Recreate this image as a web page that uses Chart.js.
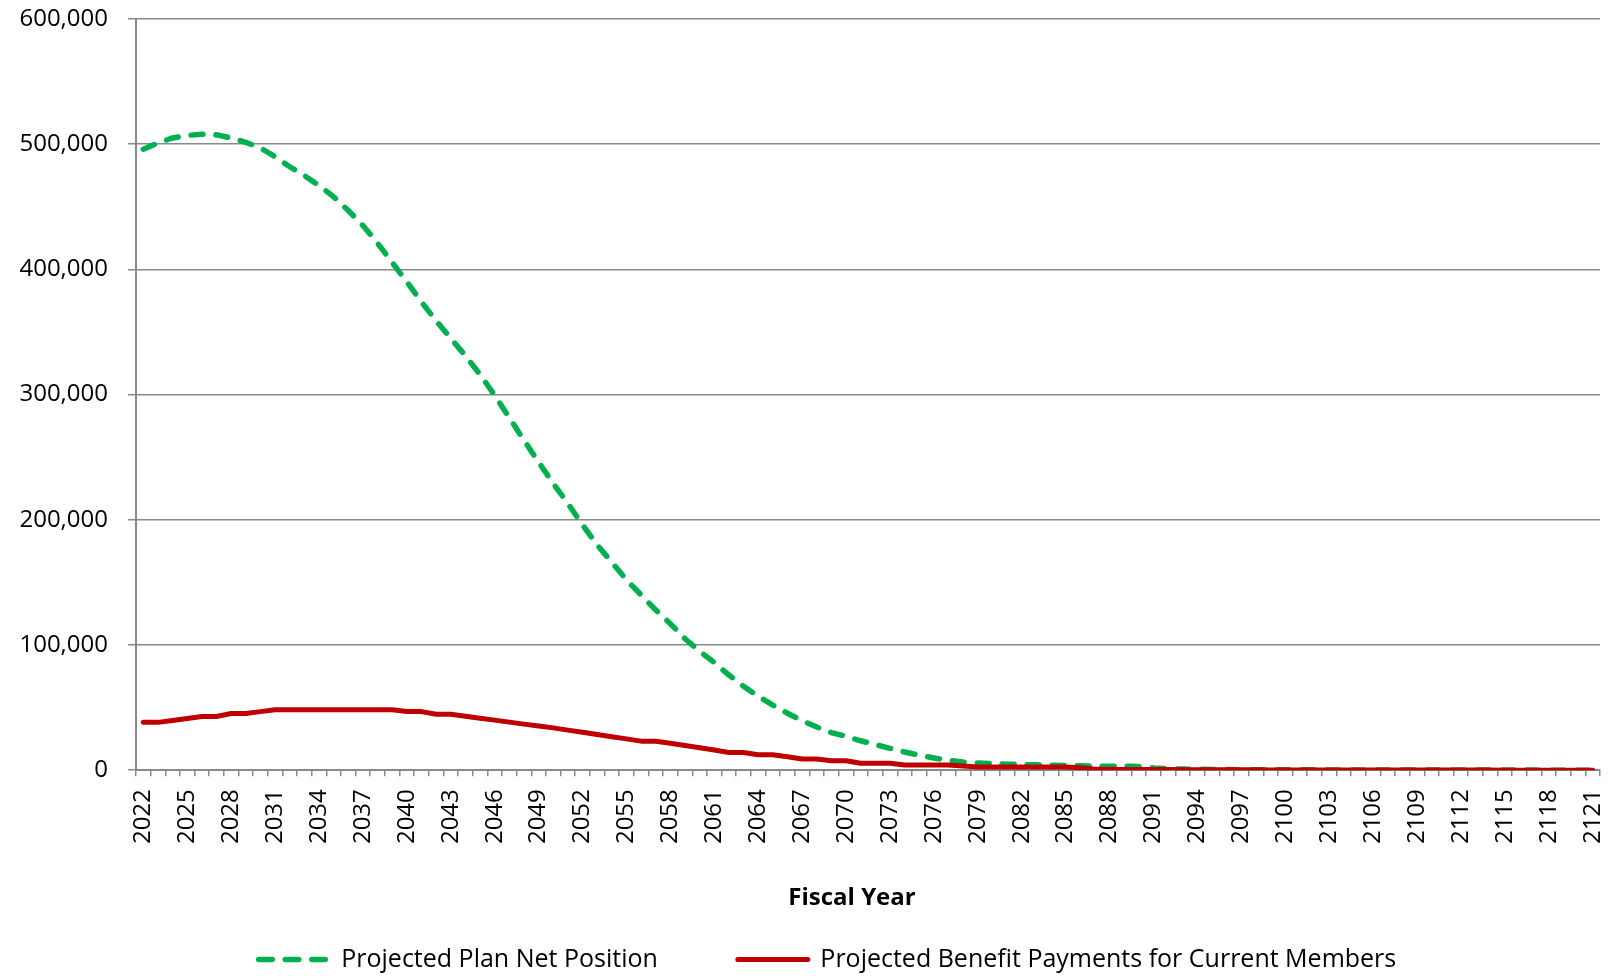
<!DOCTYPE html>
<html>
<head>
<meta charset="utf-8">
<script src="https://cdn.jsdelivr.net/npm/chart.js@4.4.1/dist/chart.umd.min.js"></script>
<style>
  html, body { margin: 0; padding: 0; background: #fff; }
  #wrap { width: 1612px; height: 976px; position: relative; }
</style>
</head>
<body>
<div id="wrap"><canvas id="projectionChart"></canvas></div>
<script>
// Fiscal years on the category axis
const years = [];
for (let y = 2022; y <= 2121; y++) years.push(String(y));

// Projected Plan Net Position
const netPosition = [
  496000, 501000, 505000, 507000, 508000, 507500, 505000, 501500, 497000, 490000, // 2022-2031
  482000, 475000, 467000, 458000, 447000, 435000, 421000, 405500, 390000, 374000, // 2032-2041
  359000, 345000, 331000, 316000, 299500, 281500, 263500, 246000, 229000, 213000, // 2042-2051
  196000, 180000, 166000, 152000, 140000, 128000, 117000, 105000, 95000, 86000,   // 2052-2061
  76000, 67000, 59000, 52000, 45500, 39500, 34500, 30000, 27000, 23500,           // 2062-2071
  20500, 17500, 14500, 12000, 9800, 7800, 6500, 5800, 5200, 4800,                 // 2072-2081
  4500, 4300, 4000, 3700, 3500, 3300, 3200, 3100, 2900, 1800,                     // 2082-2091
  1200, 900, 700, 600, 500, 450, 400, 350, 300, 280,                              // 2092-2101
  260, 240, 220, 200, 180, 160, 150, 140, 130, 120,                               // 2102-2111
  110, 100, 90, 80, 70, 60, 50, 40, 30, 20                                        // 2112-2121
];

// Projected Benefit Payments for Current Members
const benefitPayments = [
  38200, 38200, 39700, 41300, 42900, 42900, 45300, 45300, 46800, 48200,           // 2022-2031
  48200, 48200, 48200, 48200, 48200, 48200, 48200, 48200, 46800, 46800,           // 2032-2041
  44700, 44700, 43100, 41500, 40000, 38400, 36800, 35300, 33800, 32000,           // 2042-2051
  30300, 28500, 26700, 25000, 23200, 23200, 21500, 19800, 18000, 16200,           // 2052-2061
  14200, 14200, 12400, 12400, 10700, 8900, 8900, 7600, 7600, 5500,                // 2062-2071
  5500, 5500, 4200, 4200, 4200, 4200, 3400, 2600, 2600, 2600,                     // 2072-2081
  2600, 2600, 2600, 2600, 2000, 800, 700, 600, 600, 500,                          // 2082-2091
  500, 400, 400, 350, 350, 300, 300, 250, 250, 200,                               // 2092-2101
  200, 200, 150, 150, 150, 100, 100, 100, 100, 80,                                // 2102-2111
  80, 60, 60, 50, 50, 40, 40, 30, 20, 10                                          // 2112-2121
];

// y axis ticks
const yMin = 0;
const yMax = 600000;
const yStep = 100000;

const AXIS_GREY = '#898989';
const FONT_FAMILY = "'Open Sans', 'Noto Sans', sans-serif";

// legend and axis title of the original are not centred on the plot, nudge them
const nudgeBlocks = {
  id: 'nudgeBlocks',
  afterLayout(chart) {
    if (chart.legend) chart.legend.left += 55;
    if (chart.titleBlock) chart.titleBlock.left -= 32;
  }
};

new Chart(document.getElementById('projectionChart'), {
  type: 'line',
  plugins: [nudgeBlocks],
  data: {
    labels: years,
    datasets: [{
      label: 'Projected Plan Net Position',
      data: netPosition,
      borderColor: '#00B050',
      backgroundColor: '#00B050',
      borderWidth: 5.5,
      borderDash: [12, 13],
      borderCapStyle: 'round',
      pointRadius: 0,
      tension: 0,
      order: 2
    }, {
      label: 'Projected Benefit Payments for Current Members',
      data: benefitPayments,
      borderColor: '#C00000',
      backgroundColor: '#C00000',
      borderWidth: 5,
      borderCapStyle: 'round',
      borderJoinStyle: 'round',
      pointRadius: 0,
      tension: 0,
      order: 1
    }]
  },
  options: {
    responsive: true,
    maintainAspectRatio: false,
    animation: false,
    layout: {
      padding: { left: 0, right: 12, top: 19, bottom: -6 }
    },
    plugins: {
      // "Fiscal Year" sits between the axis and the legend
      title: {
        display: true,
        text: 'Fiscal Year',
        position: 'bottom',
        fullSize: false,
        weight: 500,
        color: '#000',
        font: { family: FONT_FAMILY, size: 24, weight: 'bold' },
        padding: { top: 30, bottom: -46 }
      },
      legend: {
        position: 'bottom',
        labels: {
          usePointStyle: true,
          pointStyle: 'line',
          pointStyleWidth: 70,
          padding: 80,
          color: '#000',
          font: { family: FONT_FAMILY, size: 25 },
          sort: (a, b) => a.datasetIndex - b.datasetIndex,
          generateLabels: function(chart) {
            const items = Chart.defaults.plugins.legend.labels.generateLabels(chart);
            items.forEach(item => {
              const ds = chart.data.datasets[item.datasetIndex];
              item.lineWidth = ds.borderWidth;
              item.lineCap = ds.borderCapStyle;
              item.lineDash = ds.borderDash ? [13.5, 13] : [];
            });
            return items;
          }
        }
      },
      tooltip: { enabled: false }
    },
    scales: {
      x: {
        offset: true,
        grid: {
          display: true,
          drawOnChartArea: false,
          drawTicks: true,
          tickLength: 6,
          offset: true,
          color: AXIS_GREY,
          lineWidth: 1.5
        },
        border: { display: true, color: AXIS_GREY, width: 2 },
        ticks: {
          autoSkip: false,
          maxRotation: 90,
          minRotation: 90,
          padding: 13,
          color: '#000',
          font: { family: FONT_FAMILY, size: 24 },
          callback: function(value, index) {
            return index % 3 === 0 ? this.getLabelForValue(value) : '';
          }
        },
        afterFit: function(scale) {
          scale.height = 84;
          // plot runs right up to the layout padding on both sides
          scale.paddingLeft = 0;
          scale.paddingRight = 0;
        }
      },
      y: {
        min: yMin,
        max: yMax,
        ticks: {
          stepSize: yStep,
          padding: 20,
          color: '#000',
          font: { family: FONT_FAMILY, size: 24 },
          callback: v => v.toLocaleString('en-US')
        },
        grid: { color: AXIS_GREY, lineWidth: 1.5, tickLength: 8 },
        border: { display: true, color: AXIS_GREY, width: 2 },
        afterFit: function(scale) {
          scale.width = 136;
          // labels sit on the gridlines, no extra room above the top one
          scale.paddingTop = 0;
          scale.paddingBottom = 0;
        }
      }
    }
  }
});
</script>
</body>
</html>
